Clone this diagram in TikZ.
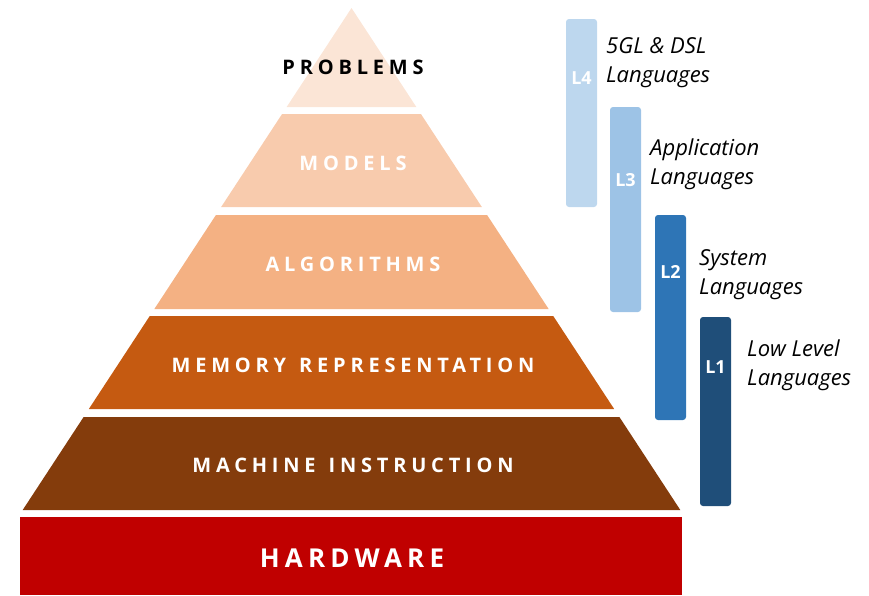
\documentclass[tikz,border=0pt]{standalone}
\usepackage{fontspec}
\usetikzlibrary{positioning}

\newfontfamily\pyrfont[LetterSpace=24,WordSpace=1.3]{Open Sans}
\newfontfamily\hwfont[LetterSpace=20]{Open Sans}
\newfontfamily\labfont{Open Sans}

\definecolor{probc}{HTML}{FBE5D6}
\definecolor{modc}{HTML}{F8CBAD}
\definecolor{algc}{HTML}{F4B183}
\definecolor{memc}{HTML}{C55A11}
\definecolor{machc}{HTML}{843C0C}
\definecolor{hardc}{HTML}{C00000}
\definecolor{lfour}{HTML}{BDD7EE}
\definecolor{lthree}{HTML}{9DC3E6}
\definecolor{ltwo}{HTML}{2E75B6}
\definecolor{lone}{HTML}{1F4E79}

\begin{document}
\begin{tikzpicture}[
    x=1pt, y=-1pt,
    layer text/.style={font=\pyrfont\bfseries\fontsize{20}{22}\selectfont, inner sep=0pt},
    bar/.style={rounded corners=3pt, inner sep=0pt, minimum width=31pt},
    bar label/.style={font=\labfont\bfseries\fontsize{18}{20}\selectfont, text=white, inner sep=0pt},
    lang text/.style={font=\labfont\itshape\fontsize{22}{29}\selectfont, align=left, anchor=west, inner sep=0pt},
]
\useasboundingbox (0,0) rectangle (869,595);

% Pyramid layers (apex at y=8, slope 0.655)
\foreach \ya/\yb/\yt/\col/\tcol/\txt [count=\i] in {
    8/107/67/probc/black/PROBLEMS,
    114/207/163/modc/white/MODELS,
    215/309/264/algc/white/ALGORITHMS,
    316/409/365/memc/white/MEMORY REPRESENTATION,
    417/510/465/machc/white/MACHINE INSTRUCTION}
{
    \pgfmathsetmacro\wa{(\ya-8)*0.655}
    \pgfmathsetmacro\wb{(\yb-8)*0.655}
    \fill[\col] (351.5-\wa,\ya) -- (351.5+\wa,\ya) -- (351.5+\wb,\yb) -- (351.5-\wb,\yb) -- cycle;
    \node[layer text, text=\tcol] (layer\i) at (353,\yt) {\txt};
}

% Hardware base
\fill[hardc] (20,517) rectangle (682,595);
\node[layer text, text=white, font=\hwfont\bfseries\fontsize{26}{30}\selectfont] (hardware) at (352,558) {HARDWARE};

% Language level bars
\node[bar, fill=lfour, minimum height=188pt] (bar4) at (581.5,113) {};
\node[bar, fill=lthree, minimum height=205pt] (bar3) at (625.5,209.5) {};
\node[bar, fill=ltwo, minimum height=205pt] (bar2) at (670.5,317.5) {};
\node[bar, fill=lone, minimum height=189pt] (bar1) at (715.5,411.5) {};

% Bar tags
\node[bar label] (tag4) at (581.5,78) {L4};
\node[bar label] (tag3) at (625.5,180) {L3};
\node[bar label] (tag2) at (670.5,272) {L2};
\node[bar label] (tag1) at (715.5,367) {L1};

% Language names
\node[lang text] (lang4) at (606,63) {5GL \& DSL\\Languages};
\node[lang text] (lang3) at (650,164) {Application\\Languages};
\node[lang text] (lang2) at (699,275) {System\\Languages};
\node[lang text] (lang1) at (747,365) {Low Level\\Languages};

\end{tikzpicture}
\end{document}
